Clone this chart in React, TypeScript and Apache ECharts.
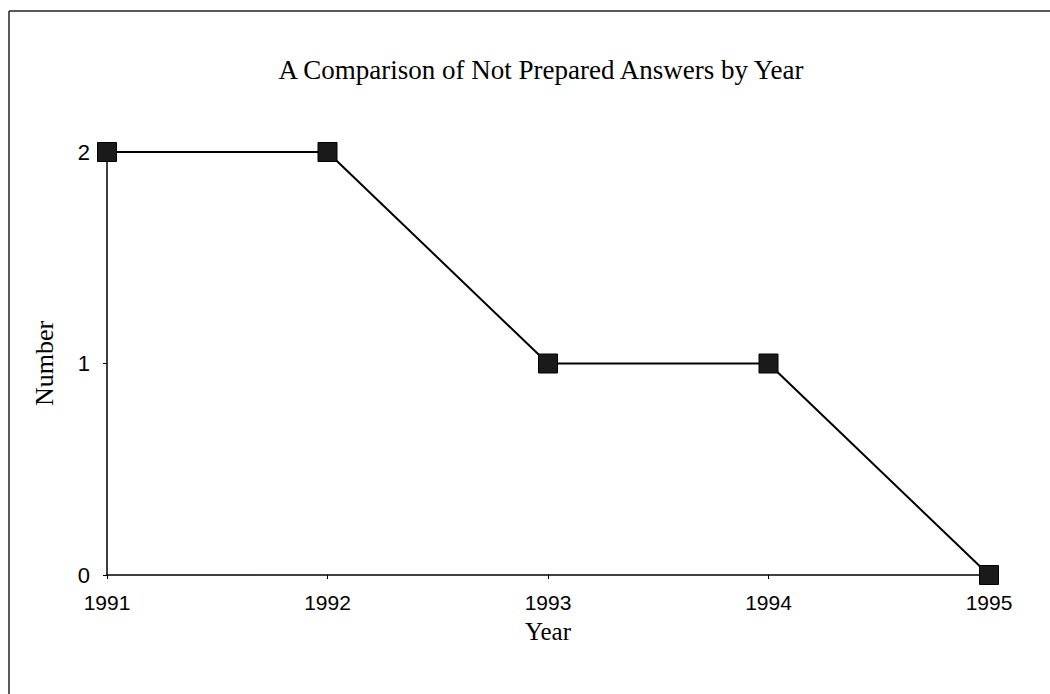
import React, { useEffect, useRef } from "react";
import * as echarts from "echarts";

const years = ["1991", "1992", "1993", "1994", "1995"];
const counts = [2, 2, 1, 1, 0];
const yTicks = [0, 1, 2];

export default function App() {
  const ref = useRef<HTMLDivElement>(null);
  useEffect(() => {
    if (!ref.current) return;
    const chart = echarts.init(ref.current, null, { renderer: "svg" });
    chart.setOption({
      animation: false,
      backgroundColor: "#ffffff",
      title: {
        text: "A Comparison of Not Prepared Answers by Year",
        left: 536,
        textAlign: "center",
        top: 51,
        textStyle: {
          fontFamily: "Liberation Serif",
          fontWeight: "normal",
          fontSize: 27,
          color: "#000",
        },
      },
      graphic: [
        { type: "line", shape: { x1: 9, y1: 11, x2: 1050, y2: 11 }, style: { stroke: "#222", lineWidth: 1.5 } },
        { type: "line", shape: { x1: 9, y1: 11, x2: 9, y2: 694 }, style: { stroke: "#222", lineWidth: 1.5 } },
      ],
      grid: { left: 107, right: 61, top: 152, bottom: 119 },
      xAxis: {
        type: "category",
        data: years,
        boundaryGap: false,
        name: "Year",
        nameLocation: "middle",
        nameGap: 44,
        nameTextStyle: { fontFamily: "Liberation Serif", fontSize: 25, color: "#000", verticalAlign: "top" },
        axisLine: { lineStyle: { color: "#000", width: 1.5 } },
        axisTick: { show: true, length: 4, lineStyle: { color: "#000" } },
        axisLabel: { fontFamily: "Liberation Sans", fontSize: 21, color: "#000", margin: 17 },
        splitLine: { show: false },
      },
      yAxis: {
        type: "value",
        min: yTicks[0],
        max: yTicks[yTicks.length - 1],
        interval: 1,
        name: "Number",
        nameLocation: "middle",
        nameGap: 50,
        nameTextStyle: { fontFamily: "Liberation Serif", fontSize: 26, color: "#000" },
        axisLine: { show: true, lineStyle: { color: "#000", width: 1.5 } },
        axisTick: { show: true, length: 4, lineStyle: { color: "#000" } },
        axisLabel: { fontFamily: "Liberation Sans", fontSize: 22, color: "#000", margin: 17 },
        splitLine: { show: false },
      },
      series: [
        {
          type: "line",
          data: counts,
          symbol: "rect",
          symbolSize: 19,
          itemStyle: { color: "#1a1a1a", borderColor: "#000", borderWidth: 1 },
          lineStyle: { color: "#000", width: 2 },
          z: 5,
        },
      ],
    });
    return () => chart.dispose();
  }, []);
  return (
    <div
      ref={ref}
      style={{ position: "fixed", left: 0, top: 0, width: 1050, height: 694 }}
    />
  );
}
